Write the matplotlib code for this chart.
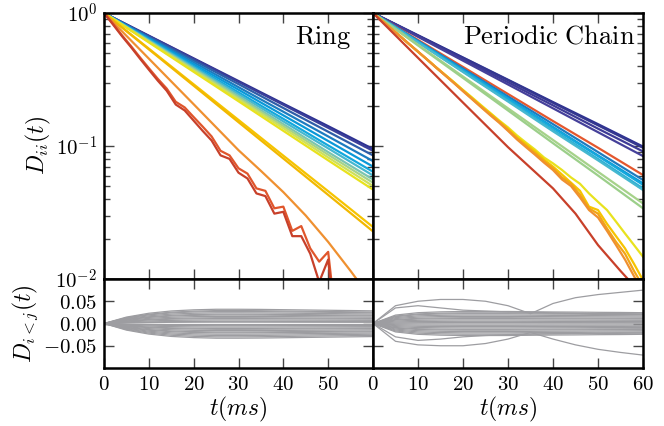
import matplotlib
matplotlib.use('Agg')
import matplotlib.pyplot as plt
import numpy as np
from matplotlib.ticker import LogLocator, NullFormatter

plt.rcParams['mathtext.fontset'] = 'cm'
plt.rcParams['font.family'] = 'serif'

# ---- data ----
t10 = [0, 10, 20, 30, 40, 50, 60]
t2 = list(range(0, 62, 2))
t5 = list(range(0, 65, 5))

# Ring, smooth lines (values at t10)
ring_colors = ['#2e3192', '#3b3f99', '#2f5ea8', '#1d7cc0', '#0a98d8', '#14a8dd',
               '#46b8d0', '#7cc5b0', '#a6d28a', '#cfe05a', '#e8e21e',
               '#f6c400', '#f2b800']
ring_vals = [
    [1, 0.675, 0.456, 0.308, 0.208, 0.141, 0.095],
    [1, 0.672, 0.452, 0.303, 0.204, 0.137, 0.092],
    [1, 0.663, 0.440, 0.292, 0.193, 0.128, 0.085],
    [1, 0.652, 0.426, 0.277, 0.181, 0.118, 0.077],
    [1, 0.642, 0.412, 0.265, 0.170, 0.109, 0.070],
    [1, 0.632, 0.400, 0.253, 0.160, 0.101, 0.064],
    [1, 0.626, 0.391, 0.245, 0.153, 0.096, 0.060],
    [1, 0.618, 0.382, 0.237, 0.146, 0.090, 0.056],
    [1, 0.613, 0.376, 0.230, 0.141, 0.086, 0.053],
    [1, 0.607, 0.368, 0.224, 0.136, 0.082, 0.050],
    [1, 0.601, 0.361, 0.217, 0.130, 0.078, 0.047],
    [1, 0.540, 0.291, 0.157, 0.0846, 0.0457, 0.0246],
    [1, 0.533, 0.284, 0.151, 0.0805, 0.0429, 0.0228],
]
# Ring, orange line that bends down
t_ring_orange = [0, 10, 20, 30, 35, 40, 45, 50, 55, 60]
ring_orange = [1, 0.454, 0.206, 0.093, 0.065, 0.045, 0.030, 0.019, 0.0115, 0.0068]
# Ring, jagged red lines (t = 0..52 step 2)
t_red = list(range(0, 54, 2))
ring_red_a = [1, 0.83, 0.68, 0.565, 0.465, 0.385, 0.32, 0.27, 0.215, 0.195, 0.165, 0.14,
              0.118, 0.092, 0.085, 0.068, 0.062, 0.048, 0.046, 0.034, 0.035, 0.023,
              0.025, 0.017, 0.0135, 0.016, 0.004]
ring_red_b = [1, 0.82, 0.67, 0.555, 0.455, 0.375, 0.31, 0.26, 0.205, 0.185, 0.155, 0.13,
              0.11, 0.085, 0.08, 0.063, 0.057, 0.044, 0.042, 0.031, 0.032, 0.021,
              0.021, 0.0155, 0.0095, 0.014, 0.003]

# Periodic chain, smooth lines (values at t10)
chain_colors = ['#2e3192', '#34378f', '#3d3a96', '#45409a', '#e4572e',
                '#1d7cc0', '#0a98d8', '#14a8dd', '#2bb0d8', '#46b8d0',
                '#a6d28a', '#9ccf8a']
chain_vals = [
    [1, 0.680, 0.463, 0.315, 0.214, 0.146, 0.099],
    [1, 0.678, 0.460, 0.312, 0.211, 0.143, 0.097],
    [1, 0.670, 0.449, 0.301, 0.202, 0.135, 0.091],
    [1, 0.662, 0.438, 0.290, 0.192, 0.127, 0.084],
    [1, 0.627, 0.393, 0.246, 0.154, 0.097, 0.0605],
    [1, 0.618, 0.382, 0.236, 0.146, 0.090, 0.0555],
    [1, 0.611, 0.374, 0.229, 0.139, 0.085, 0.0524],
    [1, 0.609, 0.371, 0.226, 0.137, 0.084, 0.051],
    [1, 0.603, 0.363, 0.219, 0.132, 0.080, 0.048],
    [1, 0.600, 0.360, 0.216, 0.129, 0.078, 0.0467],
    [1, 0.577, 0.333, 0.192, 0.111, 0.064, 0.037],
    [1, 0.570, 0.325, 0.185, 0.105, 0.060, 0.034],
]
t_chain_red = [0, 10, 20, 30, 40, 45, 50, 55, 60]
chain_red = [1, 0.46, 0.212, 0.098, 0.048, 0.031, 0.018, 0.0115, 0.0075]

# Periodic chain, jagged yellow/orange lines (t2)
chain_jag_colors = ['#e8e21e', '#f6c400', '#f2a516', '#ef9030']
chain_jag = [
    [1, 0.875, 0.765, 0.67, 0.585, 0.512, 0.448, 0.392, 0.344, 0.302, 0.264, 0.232,
     0.203, 0.178, 0.156, 0.138, 0.12, 0.106, 0.094, 0.082, 0.074, 0.066, 0.058,
     0.052, 0.044, 0.038, 0.033, 0.027, 0.022, 0.018, 0.0147],
    [1, 0.875, 0.765, 0.67, 0.585, 0.512, 0.448, 0.39, 0.342, 0.3, 0.262, 0.229,
     0.2, 0.176, 0.154, 0.135, 0.116, 0.103, 0.091, 0.079, 0.07, 0.061, 0.053,
     0.046, 0.035, 0.033, 0.026, 0.021, 0.017, 0.013, 0.0098],
    [1, 0.875, 0.765, 0.67, 0.585, 0.512, 0.448, 0.39, 0.342, 0.298, 0.26, 0.227,
     0.198, 0.173, 0.152, 0.132, 0.114, 0.1, 0.088, 0.077, 0.068, 0.058, 0.052,
     0.043, 0.034, 0.031, 0.024, 0.019, 0.0155, 0.0115, 0.0088],
    [1, 0.875, 0.765, 0.67, 0.585, 0.512, 0.447, 0.389, 0.34, 0.297, 0.258, 0.225,
     0.196, 0.171, 0.15, 0.13, 0.112, 0.098, 0.086, 0.075, 0.066, 0.056, 0.05,
     0.041, 0.033, 0.029, 0.023, 0.018, 0.014, 0.0105, 0.008],
]

# off-diagonal elements: common rise profile (t5) times final amplitudes
ring_profile = [0, 0.45, 0.72, 0.88, 0.96, 1.0, 1.0, 0.99, 0.97, 0.95, 0.93, 0.91, 0.89]
ring_amps = [0.032, 0.029, 0.027, 0.024, 0.021, 0.019, 0.016, 0.013, 0.011, 0.008,
             0.005, 0.003, 0.0, -0.003, -0.005, -0.008, -0.011, -0.013, -0.016,
             -0.019, -0.021, -0.024, -0.027, -0.030, -0.033]
chain_profile = [0, 0.7, 0.9, 0.97, 1.0, 1.0, 1.0, 0.98, 0.96, 0.95, 0.93, 0.92, 0.9]
chain_amps = [0.027, 0.024, 0.022, 0.019, 0.016, 0.013, 0.011, 0.008, 0.005, 0.002,
              -0.001, -0.004, -0.007, -0.010, -0.013, -0.015, -0.018, -0.021,
              -0.024, -0.027]
chain_out_up = [0, 0.04, 0.05, 0.054, 0.054, 0.05, 0.04, 0.022, 0.045, 0.058, 0.065, 0.07, 0.075]
chain_out_dn = [0, -0.04, -0.048, -0.05, -0.05, -0.045, -0.035, -0.02, -0.035, -0.048, -0.058, -0.065, -0.071]
chain_out_mid = [
    [0, 0.035, 0.04, 0.035, 0.03, 0.028, 0.026, 0.025, 0.024, 0.023, 0.022, 0.022, 0.021],
    [0, -0.03, -0.038, -0.035, -0.03, -0.027, -0.025, -0.024, -0.023, -0.022, -0.022, -0.021, -0.021],
]

gray = '#9d9da1'

# ---- figure ----
W, H = 664, 426
fig = plt.figure(figsize=(6.64, 4.26), dpi=100)


def box(x0, x1, y0, y1):
    return [x0 / W, 1 - y1 / H, (x1 - x0) / W, (y1 - y0) / H]


ax_rt = fig.add_axes(box(104, 373, 13, 279))
ax_rb = fig.add_axes(box(104, 373, 279, 368))
ax_ct = fig.add_axes(box(373, 643, 13, 279))
ax_cb = fig.add_axes(box(373, 643, 279, 368))

for c, v in zip(ring_colors, ring_vals):
    ax_rt.plot(t10, v, color=c, lw=1.6)
ax_rt.plot(t_ring_orange, ring_orange, color='#ef9030', lw=1.6)
ax_rt.plot(t_red, ring_red_a, color='#e0562c', lw=1.6)
ax_rt.plot(t_red, ring_red_b, color='#c8402a', lw=1.6)

for c, v in zip(chain_colors, chain_vals):
    ax_ct.plot(t10, v, color=c, lw=1.6)
for c, v in zip(chain_jag_colors, chain_jag):
    ax_ct.plot(t2, v, color=c, lw=1.6)
ax_ct.plot(t_chain_red, chain_red, color='#c8402a', lw=1.6)

rp = np.array(ring_profile)
for a in ring_amps:
    ax_rb.plot(t5, a * rp, color=gray, lw=0.9)
cp = np.array(chain_profile)
for a in chain_amps:
    ax_cb.plot(t5, a * cp, color=gray, lw=0.9)
for v in [chain_out_up, chain_out_dn] + chain_out_mid:
    ax_cb.plot(t5, v, color=gray, lw=0.9)

for ax in [ax_rt, ax_ct]:
    ax.set_yscale('log')
    ax.set_ylim(0.01, 1)
    ax.set_yticks([0.01, 0.1, 1])
    ax.yaxis.set_minor_locator(LogLocator(base=10, subs=np.arange(2, 10)))
    ax.yaxis.set_minor_formatter(NullFormatter())
for ax in [ax_rb, ax_cb]:
    ax.set_ylim(-0.1, 0.1)
    ax.set_yticks([-0.05, 0, 0.05])

for ax in [ax_rt, ax_ct, ax_rb, ax_cb]:
    ax.set_xlim(0, 60)
    ax.set_xticks([0, 10, 20, 30, 40, 50, 60])
    ax.tick_params(which='both', direction='in', top=True, right=True,
                   color='#444444', labelsize=15, pad=5)
    ax.tick_params(which='major', length=7, width=1)
    ax.tick_params(which='minor', length=4, width=1)
    for s in ax.spines.values():
        s.set_linewidth(1.8)

ax_rt.set_yticklabels([r'$10^{-2}$', r'$10^{-1}$', r'$10^{0}$'])
ax_rb.set_yticklabels([r'$-0.05$', r'$0.00$', r'$0.05$'])
ax_ct.set_yticklabels([])
ax_cb.set_yticklabels([])
ax_rt.set_xticklabels([])
ax_ct.set_xticklabels([])
ax_rb.set_xticklabels([r'$0$', r'$10$', r'$20$', r'$30$', r'$40$', r'$50$', ''])
ax_cb.set_xticklabels([r'$0$', r'$10$', r'$20$', r'$30$', r'$40$', r'$50$', r'$60$'])

ax_rt.set_ylabel(r'$D_{ii}(t)$', fontsize=17, labelpad=2)
ax_rb.set_ylabel(r'$D_{i<j}(t)$', fontsize=17, labelpad=2)
ax_rb.set_xlabel(r'$t(ms)$', fontsize=17, labelpad=1)
ax_cb.set_xlabel(r'$t(ms)$', fontsize=17, labelpad=1)

ax_rt.text(0.92, 0.96, r'$\mathrm{Ring}$', transform=ax_rt.transAxes,
           ha='right', va='top', fontsize=19)
ax_ct.text(0.97, 0.96, r'$\mathrm{Periodic\ Chain}$', transform=ax_ct.transAxes,
           ha='right', va='top', fontsize=19)

fig.savefig('out.png', dpi=100)
